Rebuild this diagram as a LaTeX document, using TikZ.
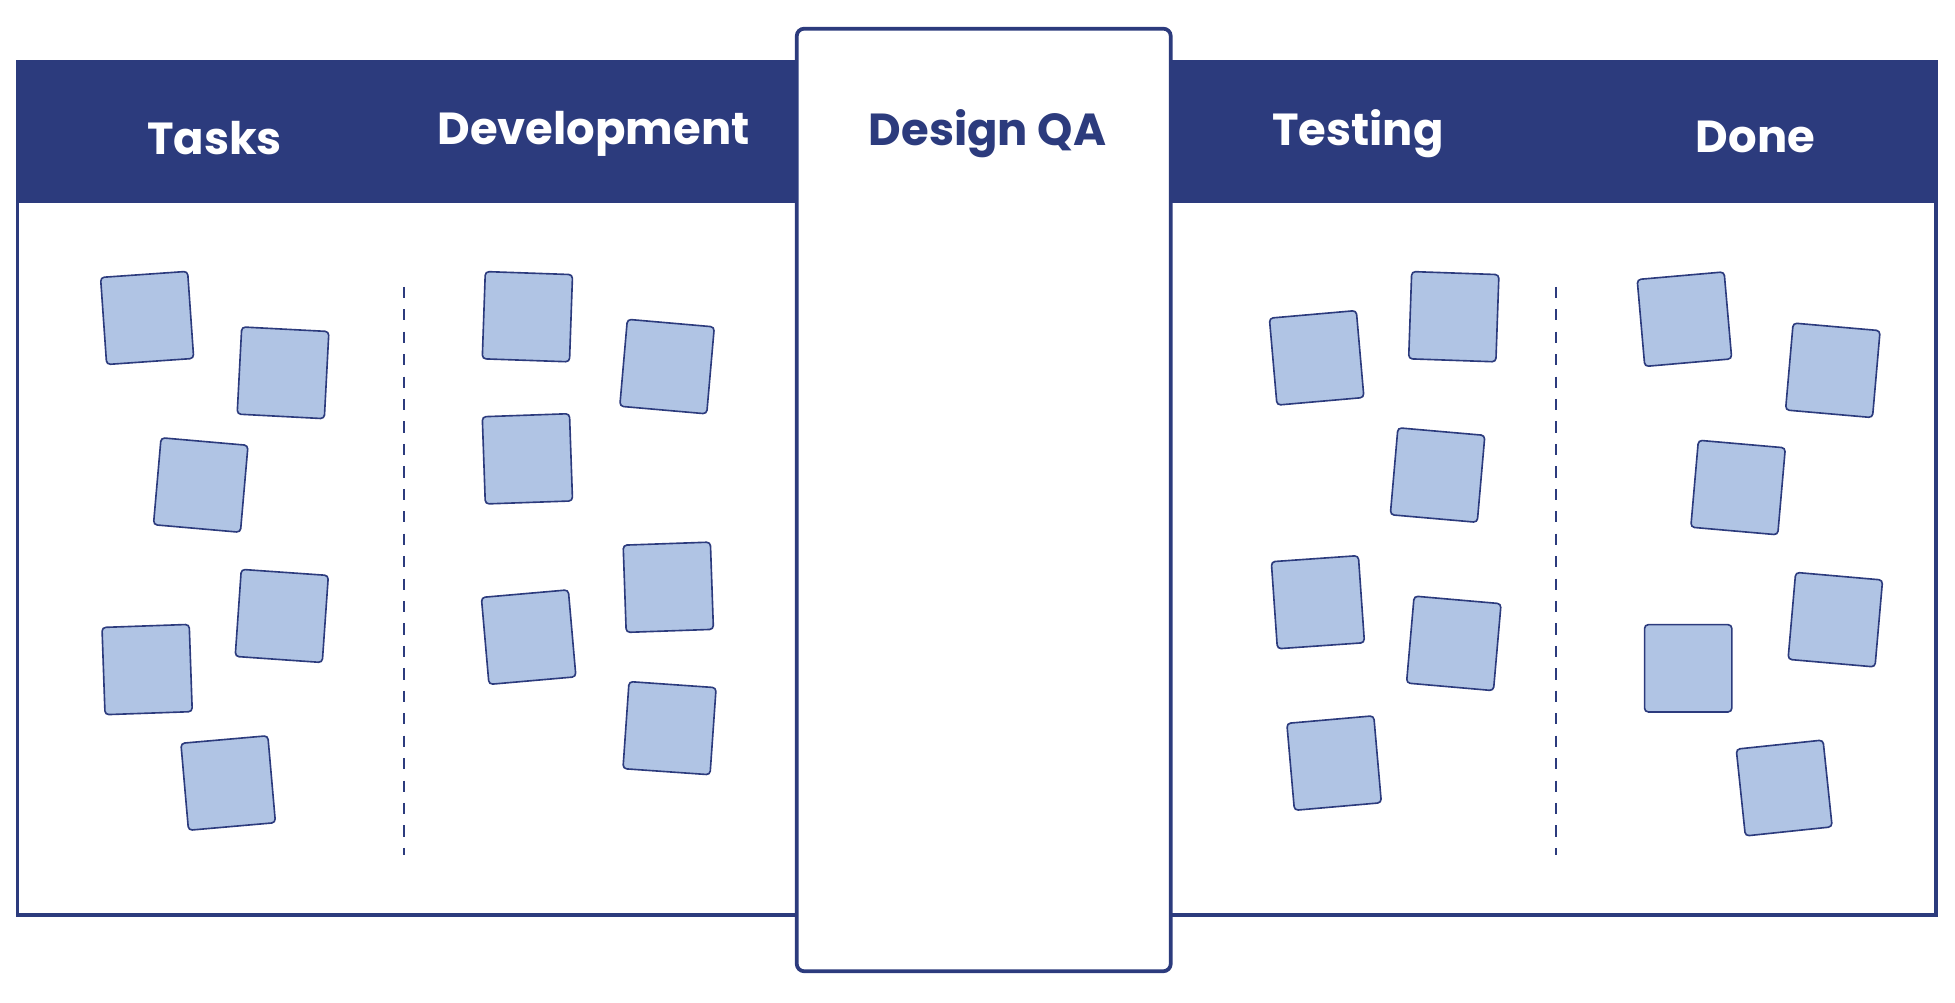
\documentclass[tikz,border=0pt]{standalone}
\usepackage{fontspec}
\setmainfont{Poppins}
\definecolor{navy}{RGB}{44,59,125}
\definecolor{notefill}{RGB}{176,196,228}
\tikzset{every picture/.style={line width=2pt},
  note/.style={draw=navy,fill=notefill,line width=1.3pt,rounded corners=3pt,minimum size=70pt,inner sep=0pt},
  headtext/.style={font=\fontsize{36}{42}\selectfont\bfseries,text=white}}
\begin{document}
\begin{tikzpicture}[x=1pt,y=1pt,yscale=-1]
\useasboundingbox (0,0) rectangle (1568,804);
% board
\draw[navy,line width=3pt] (14,50) rectangle (1553,734);
\fill[navy] (14,50) rectangle (1553,163);
% centre column
\draw[navy,fill=white,line width=3pt,rounded corners=6pt] (639,23) rectangle (939,779);
% dividers
\draw[navy,dashed,dash pattern=on 9pt off 9pt] (324,230) -- (324,686);
\draw[navy,dashed,dash pattern=on 9pt off 9pt] (1248,230) -- (1248,686);
% headers
\node[headtext] (tasks) at (172,111) {Tasks};
\node[headtext] (dev) at (476,107) {Development};
\node[headtext,text=navy] (qa) at (792,107) {Design QA};
\node[headtext] (test) at (1089,107) {Testing};
\node[headtext] (done) at (1408,110) {Done};
% notes
\foreach \x/\y/\r [count=\i] in {118/255/4,227/299/-3,161/389/-5,226/494/-4,118/537/2,183/628/5,
  423/254/-2,535/294/-5,423/368/2,536/471/2,424/511/5,537/584/-4,
  1056/287/5,1166/254/-2,1153/381/-5,1057/483/4,1166/516/-5,1070/612/5,
  1351/256/5,1470/297/-5,1394/391/-5,1472/497/-5,1354/536/0,1431/632/6}
  \node[note,rotate=\r] (n\i) at (\x,\y) {};
\end{tikzpicture}
\end{document}
